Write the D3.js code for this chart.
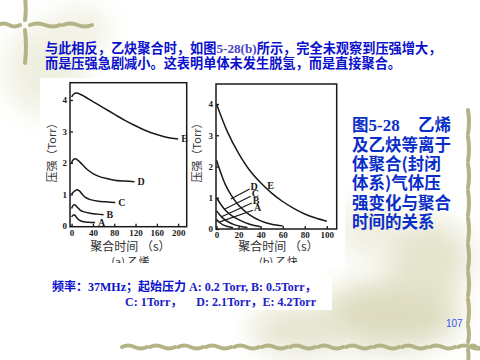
<!DOCTYPE html>
<html>
<head>
<meta charset="utf-8">
<script src="https://cdn.jsdelivr.net/npm/d3@7"></script>
<style>
  html, body { margin: 0; padding: 0; background: #fff; }
  svg { display: block; }
</style>
</head>
<body>
<div id="chart"></div>
<script>
// series for (a) ethylene: [time s, pressure Torr]
const seriesNames = ["A", "B", "C", "D", "E"];
const ethyleneA = [[0,0.28],[3,0.34],[6,0.34],[10,0.25],[15,0.17],[22,0.13],[32,0.11],[44,0.1]];
const ethyleneB = [[0,0.55],[3,0.65],[6,0.67],[10,0.6],[16,0.5],[22,0.45],[35,0.4],[48,0.37],[60,0.35]];
const ethyleneC = [[0,1.0],[4,1.08],[9,1.14],[14,1.12],[20,1.0],[26,0.9],[35,0.83],[50,0.78],[65,0.76],[82,0.74]];
const ethyleneD = [[0,2.0],[3,2.1],[7,2.13],[12,2.08],[20,1.95],[30,1.78],[40,1.66],[50,1.58],[66,1.5],[80,1.45],[100,1.42],[118,1.4]];
const ethyleneE = [[0,4.1],[5,4.2],[10,4.22],[20,4.15],[40,3.95],[60,3.75],[80,3.55],[100,3.35],[120,3.18],[140,3.02],[160,2.9],[180,2.81],[200,2.76]];

// series for (b) acetylene
const acetyleneA = [[0,0.3],[3,0.2],[6,0.13],[10,0.08],[15,0.04]];
const acetyleneB = [[0,0.58],[3,0.45],[6,0.34],[10,0.24],[16,0.14],[22,0.08],[28,0.05]];
const acetyleneC = [[0,1.0],[4,0.78],[8,0.6],[14,0.42],[20,0.3],[30,0.15],[40,0.07]];
const acetyleneD = [[0,2.2],[4,1.78],[8,1.42],[13,1.1],[20,0.76],[30,0.45],[40,0.26],[50,0.15],[60,0.1]];
const acetyleneE = [[0,4.0],[10,3.1],[20,2.42],[30,1.88],[40,1.48],[50,1.15],[60,0.88],[70,0.66],[80,0.48],[90,0.35],[100,0.25]];

// leader lines in (b): from curve point to label
const acetyleneLeaderFrom = [[3,0.23],[4.5,0.39],[7.5,0.64],[13,0.96]];
const acetyleneLeaderTo = [[33,0.6],[32,0.83],[31,1.05],[30,1.28]];

const ethyleneXTicks = [0, 40, 80, 120, 160, 200];
const acetyleneXTicks = [0, 20, 40, 60, 80, 100];
const yTicks = [0, 1, 2, 3, 4];

const topLines = ["与此相反，乙炔聚合时，如图", "5-28(b)", "所示，完全未观察到压强增大，"];
const topLine2 = "而是压强急剧减小。这表明单体未发生脱氢，而是直接聚合。";
const sideLines = ["及乙炔等离于", "体聚合(封闭", "体系)气体压", "强变化与聚合", "时间的关系"];

const W = 480, H = 360;
const olive = "#b4b386";
const blue = "#0a10cc";

const svg = d3.select("#chart").append("svg")
  .attr("width", W).attr("height", H)
  .attr("viewBox", `0 0 ${W} ${H}`);

const defs = svg.append("defs");
defs.append("filter").attr("id", "blur").attr("x", "-50%").attr("y", "-50%").attr("width", "200%").attr("height", "200%")
  .append("feGaussianBlur").attr("stdDeviation", 14);
defs.append("clipPath").attr("id", "imgclip")
  .append("rect").attr("x", 40).attr("y", 78).attr("width", 305).attr("height", 185);

// pale background blobs
const bg = svg.append("g").attr("filter", "url(#blur)");
bg.append("ellipse").attr("cx", 45).attr("cy", 70).attr("rx", 40).attr("ry", 45).attr("fill", "#efefe0");
bg.append("ellipse").attr("cx", 80).attr("cy", 30).attr("rx", 30).attr("ry", 25).attr("fill", "#f1f1e4");
bg.append("ellipse").attr("cx", 390).attr("cy", 315).attr("rx", 70).attr("ry", 35).attr("fill", "#dddcc0");
bg.append("ellipse").attr("cx", 300).attr("cy", 330).attr("rx", 50).attr("ry", 25).attr("fill", "#e6e5d0");
bg.append("ellipse").attr("cx", 430).attr("cy", 260).attr("rx", 40).attr("ry", 40).attr("fill", "#e4e3cc");
bg.append("ellipse").attr("cx", 370).attr("cy", 230).attr("rx", 30).attr("ry", 30).attr("fill", "#efeee0");

// bamboo frame
const bamboo = svg.append("g").attr("fill", "none").attr("stroke", olive)
  .attr("stroke-width", 4).attr("stroke-linecap", "round");
function vSeg(x, y0, y1, bend) {
  bamboo.append("path").attr("d", `M${x},${y0} Q${x + bend},${(y0 + y1) / 2} ${x},${y1}`);
}
function hSeg(y, x0, x1) {
  const m = (x0 + x1) / 2;
  bamboo.append("path").attr("d", `M${x0},${y} Q${(x0 + m) / 2},${y - 3} ${m},${y} T${x1},${y}`);
}
vSeg(25, -2, 20, 1.5); vSeg(25, 30, 63, 2);
hSeg(25, -2, 20); hSeg(25, 30, 60); hSeg(25, 63, 92);
for (let y = 110; y < 340; y += 27) vSeg(468, y, Math.min(y + 24, 342), 2);
vSeg(468, 350, 362, 1);
for (let x = 122; x < 460; x += 28) hSeg(347, x, x + 25);
hSeg(347, 470, 482);

// white panels
svg.append("rect").attr("x", 40).attr("y", 78).attr("width", 305).attr("height", 189).attr("fill", "#fff");
svg.append("rect").attr("x", 48).attr("y", 277).attr("width", 284).attr("height", 33).attr("fill", "#fff");

// top text
const t1 = svg.append("text").attr("x", 45).attr("y", 52.5)
  .attr("font-size", 13.2).attr("font-weight", 700).attr("fill", blue)
  .attr("font-family", "'Noto Sans CJK SC', sans-serif");
t1.append("tspan").text(topLines[0]);
t1.append("tspan").attr("font-family", "'Liberation Serif', serif").attr("fill", "#4a44c8").text(topLines[1]);
t1.append("tspan").text(topLines[2]);
svg.append("text").attr("x", 45).attr("y", 68)
  .attr("font-size", 13.2).attr("font-weight", 700).attr("fill", blue)
  .attr("font-family", "'Noto Sans CJK SC', sans-serif")
  .text(topLine2);

// side caption
const side = svg.append("g").attr("fill", "#0a2ec8").attr("font-weight", 700)
  .attr("font-family", "'Noto Sans CJK SC', sans-serif").attr("font-size", 16.5);
const s0 = side.append("text").attr("x", 352).attr("y", 131);
s0.append("tspan").text("图");
s0.append("tspan").attr("font-family", "'Liberation Serif', serif").attr("font-size", 17).text("5-28");
side.append("text").attr("x", 451).attr("y", 131).attr("text-anchor", "end").text("乙烯");
side.selectAll("text.l").data(sideLines).enter().append("text").attr("class", "l")
  .attr("x", 352).attr("y", (d, i) => 151 + i * 19.2).text(d => d);

// bottom text
const bt = svg.append("g").attr("fill", blue).attr("font-weight", 700).attr("font-size", 12);
const b1 = bt.append("text").attr("x", 52).attr("y", 291);
b1.append("tspan").attr("font-family", "'Noto Sans CJK SC', sans-serif").text("频率：");
b1.append("tspan").attr("font-family", "'Liberation Serif', serif").text("37MHz");
b1.append("tspan").attr("font-family", "'Noto Sans CJK SC', sans-serif").text("；起始压力");
b1.append("tspan").attr("font-family", "'Liberation Serif', serif").attr("fill", "#1a20c8").text(" A: 0.2 Torr,  B: 0.5Torr");
b1.append("tspan").attr("font-family", "'Noto Sans CJK SC', sans-serif").attr("fill", "#1a20c8").text("，");
const b2 = bt.append("text").attr("x", 125).attr("y", 306)
  .attr("font-family", "'Liberation Serif', serif").attr("fill", "#1a20c8");
b2.append("tspan").text("C: 1Torr");
b2.append("tspan").attr("font-family", "'Noto Sans CJK SC', sans-serif").text("，");
b2.append("tspan").attr("dx", 14).text("D: 2.1Torr");
b2.append("tspan").attr("font-family", "'Noto Sans CJK SC', sans-serif").text("，");
b2.append("tspan").text("E: 4.2Torr");

svg.append("text").attr("x", 446).attr("y", 327)
  .attr("font-family", "'Liberation Sans', Arial, sans-serif").attr("font-size", 10)
  .attr("fill", "#3355ee").text("107");

// the two panels
const ink = "#1a1a1a";
function drawPanel(cfg) {
  const x = d3.scaleLinear().domain(cfg.xDomain).range([cfg.left, cfg.right]);
  const y = d3.scaleLinear().domain(cfg.yDomain).range([cfg.bottom, cfg.top]);
  const g = svg.append("g");

  const xAxis = g.append("g").attr("transform", `translate(0,${cfg.bottom})`)
    .call(d3.axisBottom(x).tickValues(cfg.xTicks).tickFormat(d3.format("d"))
      .tickSizeInner(-3).tickSizeOuter(0).tickPadding(3));
  const yAxis = g.append("g").attr("transform", `translate(${cfg.left},0)`)
    .call(d3.axisLeft(y).tickValues(yTicks).tickFormat(d3.format("d"))
      .tickSizeInner(-3).tickSizeOuter(0).tickPadding(3));
  [xAxis, yAxis].forEach(a => {
    a.select(".domain").remove();
    a.selectAll(".tick line").attr("stroke", ink).attr("stroke-width", 1.3);
    a.selectAll(".tick text").attr("fill", ink).attr("font-size", 9).attr("font-weight", 700)
      .attr("font-family", "'Liberation Serif', serif");
  });

  g.append("rect").attr("x", cfg.left).attr("y", cfg.top)
    .attr("width", cfg.right - cfg.left).attr("height", cfg.bottom - cfg.top)
    .attr("fill", "none").attr("stroke", ink).attr("stroke-width", 1.5);

  const line = d3.line().x(d => x(d[0])).y(d => y(d[1])).curve(d3.curveCatmullRom.alpha(0.5));
  g.selectAll("path.curve").data(cfg.series).enter().append("path").attr("class", "curve")
    .attr("d", line).attr("fill", "none").attr("stroke", ink).attr("stroke-width", 1.5);

  const lab = g.append("g").attr("fill", ink).attr("font-size", 10).attr("font-weight", 700)
    .attr("font-family", "'Liberation Serif', serif");
  if (cfg.leaderFrom) {
    cfg.leaderFrom.forEach((p, i) => {
      const q = cfg.leaderTo[i];
      g.append("line").attr("x1", x(p[0])).attr("y1", y(p[1])).attr("x2", x(q[0])).attr("y2", y(q[1]))
        .attr("stroke", ink).attr("stroke-width", 1.2);
      lab.append("text").attr("x", x(q[0]) + 1).attr("y", y(q[1]) + 1).text(seriesNames[i]);
    });
    lab.append("text").attr("x", x(46)).attr("y", y(1.28)).text("E");
  } else {
    cfg.series.forEach((s, i) => {
      const last = s[s.length - 1];
      lab.append("text").attr("x", x(last[0]) + 3).attr("y", y(last[1]) + 3.5).text(seriesNames[i]);
    });
  }

  const cjk = "'Noto Sans CJK SC', sans-serif";
  g.append("text").attr("transform", `translate(${cfg.yLabelX},150) rotate(-90)`)
    .attr("text-anchor", "middle").attr("font-family", cjk).attr("font-size", 11).attr("fill", "#333")
    .text("压强（Torr）");
  g.append("text").attr("x", (cfg.left + cfg.right) / 2 + 2).attr("y", 251)
    .attr("text-anchor", "middle").attr("font-family", cjk).attr("font-size", 12).attr("fill", "#333")
    .text("聚合时间 （s）");
  g.append("text").attr("x", (cfg.left + cfg.right) / 2 + 2).attr("y", 266)
    .attr("clip-path", "url(#imgclip)")
    .attr("text-anchor", "middle").attr("font-family", cjk).attr("font-size", 11).attr("fill", "#333")
    .text(cfg.caption);
}

drawPanel({
  left: 70, right: 186.7, top: 82.7, bottom: 226.7,
  xDomain: [-3, 216], yDomain: [-0.03, 4.55], xTicks: ethyleneXTicks,
  series: [ethyleneA, ethyleneB, ethyleneC, ethyleneD, ethyleneE],
  yLabelX: 56, caption: "(a) 乙烯"
});
drawPanel({
  left: 216, right: 336.7, top: 84, bottom: 229,
  xDomain: [-0.5, 109], yDomain: [0, 4.64], xTicks: acetyleneXTicks,
  series: [acetyleneA, acetyleneB, acetyleneC, acetyleneD, acetyleneE],
  leaderFrom: acetyleneLeaderFrom, leaderTo: acetyleneLeaderTo,
  yLabelX: 201, caption: "(b) 乙炔"
});
</script>
</body>
</html>
